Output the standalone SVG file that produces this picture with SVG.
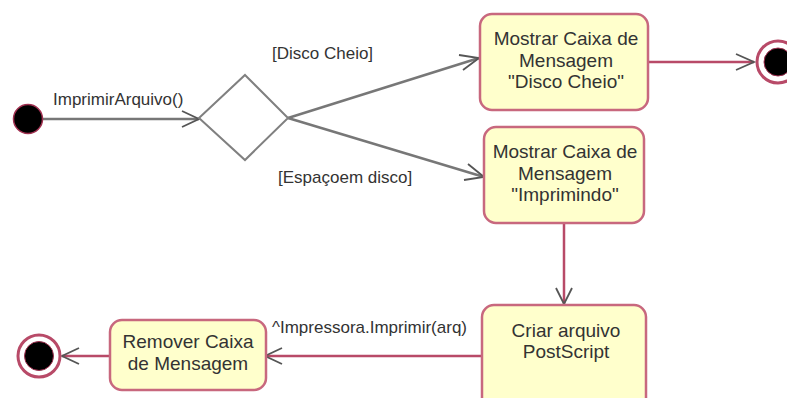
<svg xmlns="http://www.w3.org/2000/svg" width="787" height="398" viewBox="0 0 787 398">
<style>
text{font-family:"Liberation Sans",Arial,sans-serif;font-size:17px;fill:#333;}
.t{text-anchor:middle;font-size:19px;}
.box{fill:#ffffcc;stroke:#c8687e;stroke-width:2.5;}
.g{fill:none;stroke:#777;stroke-width:2.5;}
.r{fill:none;stroke:#b84a68;stroke-width:2.5;}
.ah{fill:none;stroke:#555;stroke-width:1.8;}
</style>
<rect width="787" height="398" fill="#fff"/>
<g id="connectors">
<line class="g" x1="42" y1="119" x2="199" y2="119"/>
<path class="ah" d="M182,111 L199,119 L182,127"/>
<line class="g" x1="288" y1="118" x2="479" y2="58"/>
<path class="ah" d="M459,55 L479,58 L463,70"/>
<line class="g" x1="288" y1="118" x2="484" y2="177"/>
<path class="ah" d="M468,164 L484,177 L464,180"/>
<line class="r" x1="648" y1="62" x2="754" y2="62"/>
<path class="ah" d="M736,54 L754,62 L736,70"/>
<line class="r" x1="564" y1="223" x2="564" y2="304"/>
<path class="ah" d="M556,288 L564,304 L572,288"/>
<line class="r" x1="482" y1="356" x2="265" y2="356"/>
<path class="ah" d="M282,348 L265,356 L282,364"/>
<line class="r" x1="110" y1="356" x2="62" y2="356"/>
<path class="ah" d="M79,348 L62,356 L79,364"/>
<text x="53" y="105">ImprimirArquivo()</text>
<text x="272" y="59">[Disco Cheio]</text>
<text x="278" y="183">[Espaçoem disco]</text>
<text x="272" y="333">^Impressora.Imprimir(arq)</text>
</g>
<g id="start"><circle cx="28" cy="119" r="14.5" fill="#000" stroke="#a03050" stroke-width="1.5"/></g>
<g id="decision"><polygon points="245,75 288,118 245,160 199,118" fill="#fff" stroke="#808080" stroke-width="2"/></g>
<g id="discoCheio">
<rect class="box" x="480" y="14" width="168" height="96" rx="12"/>
<text class="t" x="566" y="45">Mostrar Caixa de</text>
<text class="t" x="566" y="67">Mensagem</text>
<text class="t" x="566" y="88">"Disco Cheio"</text>
</g>
<g id="end1"><circle cx="778" cy="62" r="21" fill="#fff" stroke="#b84a68" stroke-width="3"/><circle cx="778" cy="62" r="14" fill="#000" stroke="#a03050" stroke-width="1"/></g>
<g id="imprimindo">
<rect class="box" x="484" y="127" width="160" height="96" rx="12"/>
<text class="t" x="565" y="158">Mostrar Caixa de</text>
<text class="t" x="565" y="180">Mensagem</text>
<text class="t" x="565" y="201">"Imprimindo"</text>
</g>
<g id="criar">
<rect class="box" x="482" y="305" width="164" height="110" rx="12"/>
<text class="t" x="566" y="337">Criar arquivo</text>
<text class="t" x="566" y="358">PostScript</text>
</g>
<g id="remover">
<rect class="box" x="110" y="320" width="156" height="70" rx="12"/>
<text class="t" x="188" y="348">Remover Caixa</text>
<text class="t" x="188" y="370">de Mensagem</text>
</g>
<g id="end2"><circle cx="39" cy="356" r="21" fill="#fff" stroke="#b84a68" stroke-width="3"/><circle cx="39" cy="356" r="14.5" fill="#000" stroke="#a03050" stroke-width="1"/></g>
</svg>
